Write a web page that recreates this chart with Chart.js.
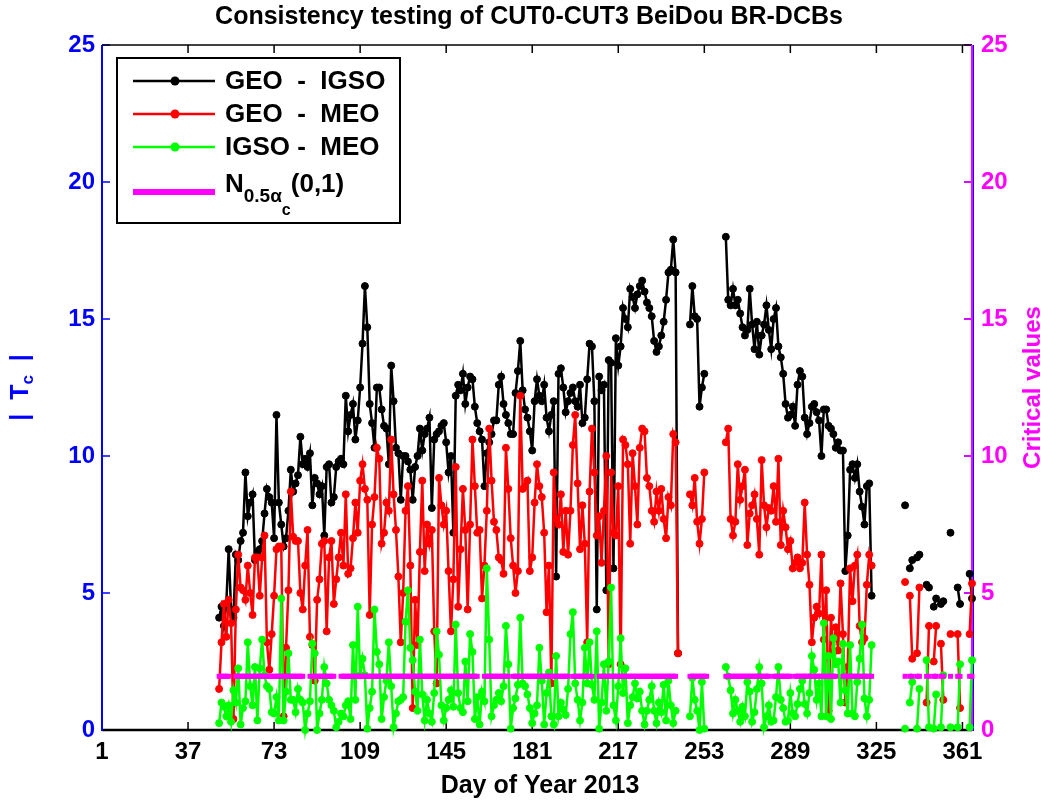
<!DOCTYPE html>
<html>
<head>
<meta charset="utf-8">
<title>Consistency testing of CUT0-CUT3 BeiDou BR-DCBs</title>
<script src="https://cdn.jsdelivr.net/npm/chart.js@4.4.1/dist/chart.umd.min.js"></script>
<style>
  html, body { margin: 0; padding: 0; background: #fff; }
  #wrap { width: 1046px; height: 807px; position: relative; }
</style>
</head>
<body>
<div id="wrap"><canvas id="myChart"></canvas></div>
<script>
// one value per day, starting at day 50; null = no solution that day
const firstDay = 50;
const xTicks = [1, 37, 73, 109, 145, 181, 217, 253, 289, 325, 361];

const geoIgso = [
  4.1, 4.5, 3.8, 4.6, 6.6, 4.4, 4.1, 6.4, 6.2, 6.9,
  7.2, 9.4, 7.8, 8.3, 8.6, 6.2, 6.5, 6.6, 6.9, 7.9,
  8.8, 8.5, 8.3, 7.0, 11.5, 8.3, 7.5, 6.7, 7.0, 8.0,
  9.5, 8.7, 9.0, 9.3, 10.7, 9.7, 9.9, 9.6, 10.1, 8.2,
  9.2, 9.0, 8.6, 8.9, 7.1, 9.6, 9.7, 8.3, 8.5, 9.6,
  9.8, 9.9, 9.7, 12.2, 10.9, 11.5, 11.9, 10.6, 11.3, 12.5,
  14.1, 16.2, 14.7, 11.9, 11.2, 10.3, 12.5, 12.5, 11.7, 11.1,
  11.0, 9.7, 13.3, 12.0, 10.3, 10.1, 8.4, 10.0, 10.0, 9.8,
  9.5, 8.4, 9.6, 10.0, 11.0, 10.2, 10.8, 11.0, 11.4, 8.1,
  10.6, 10.8, 10.9, 11.1, 11.2, 10.5, 9.4, 10.0, 7.2, 12.2,
  12.6, 12.4, 13.0, 11.9, 12.5, 12.9, 12.8, 11.8, 11.2, 10.9,
  10.6, 8.9, 10.1, 10.5, 10.8, 11.3, 11.3, 12.6, 12.9, 11.9,
  11.5, 11.2, 10.8, 10.8, 12.3, 13.1, 14.2, 12.4, 11.7, 11.4,
  10.9, 10.2, 12.0, 12.8, 12.2, 12.0, 12.6, 11.4, 10.9, 11.5,
  12.0, 5.6, 13.0, 13.2, 12.5, 11.6, 12.0, 12.3, 12.5, 12.0,
  11.8, 12.6, 11.2, 11.4, 12.8, 14.1, 14.0, 12.0, 4.4, 12.9,
  12.4, 12.6, 5.1, 13.5, 13.4, 5.9, 14.3, 13.3, 14.0, 15.4,
  15.0, 14.7, 16.1, 15.8, 15.4, 15.9, 16.2, 16.4, 16.0, 15.6,
  15.4, 15.1, 14.2, 13.8, 14.0, 14.4, 14.9, 15.7, 16.7, 16.8,
  17.9, 16.7, 2.8, null, null, null, null, 14.8, 16.2, 15.1,
  15.0, 11.8, 12.5, 13.0, null, null, null, null, null, null,
  null, null, 18.0, 15.7, 15.5, 16.1, 15.5, 15.7, 15.2, 14.7,
  14.4, 14.6, 16.1, 14.8, 13.9, 14.9, 13.7, 14.4, 14.8, 15.5,
  14.6, 13.9, 15.0, 15.4, 14.0, 13.6, 13.0, 11.9, 11.4, 11.5,
  11.8, 11.1, 12.6, 13.1, 12.9, 11.4, 10.8, 11.2, 11.8, 11.9,
  11.6, 11.3, 10.0, 11.7, 11.7, 11.1, 11.0, 10.8, 10.3, 10.5,
  10.2, 10.2, 5.8, 7.1, 9.5, 9.7, 9.2, 9.7, 8.7, 8.15,
  7.5, 8.9, 9.0, 4.9, null, null, null, null, null, null,
  null, null, null, null, null, null, null, 8.2, null, 5.9,
  6.2, null, 6.3, 6.4, null, null, 5.3, 5.2, null, 4.5,
  4.8, null, 4.6, 4.7, null, null, 7.2, null, null, 5.2,
  4.6, null, null, null, 5.7, 4.8
];

const geoMeo = [
  1.5, 3.2, 4.6, 3.4, 4.75, 3.9, 0.4, 4.4, 6.4, 5.2,
  5.1, 4.75, 6.0, 5.0, 4.2, 6.3, 6.3, 4.9, 6.3, 7.1,
  3.2, 2.2, 3.5, 4.9, 6.6, 6.7, 6.7, 0.5, 3.0, 5.1,
  8.7, 7.05, 6.9, 6.9, 5.0, 4.4, 6.0, 7.3, 3.4, 3.1,
  1.8, 4.75, 5.5, 6.8, 6.9, 3.6, 6.3, 6.9, 4.6, 5.5,
  6.3, 7.2, 6.0, 8.6, 5.7, 5.9, 7.0, 8.3, 7.2, 9.1,
  9.7, 8.8, 8.4, 4.2, 7.5, 8.5, 10.3, 9.9, 6.8, 7.2,
  8.3, 8.0, 10.6, 8.6, 7.3, 5.6, 3.2, 5.0, 8.0, 8.9,
  6.0, 0.8, 4.75, 3.1, 6.5, 9.1, 5.8, 7.5, 6.8, 7.3,
  3.6, 1.7, 9.2, 8.2, 7.5, 8.0, 5.8, 3.6, 5.5, 9.6,
  4.5, 6.6, 8.8, 7.3, 4.4, 7.5, 10.6, 8.9, 7.2, 7.3,
  4.8, 6.0, 8.0, 11.0, 9.1, 7.6, 7.3, 6.3, 6.2, 5.7,
  10.3, 8.8, 7.0, 6.0, 5.0, 5.8, 12.2, 8.8, 8.9, 9.1,
  5.8, 6.3, 8.3, 9.7, 8.9, 8.5, 7.2, 4.3, 6.0, 1.7,
  9.4, 7.7, 7.5, 8.6, 6.5, 8.0, 6.4, 8.0, 10.4, 11.5,
  9.0, 6.6, 8.2, 6.8, 3.2, 8.7, 11.0, 9.4, 7.1, 7.8,
  6.1, 8.0, 10.0, 2.4, 9.4, 7.2, 7.1, 8.9, 2.4, 10.6,
  10.4, 9.7, 6.8, 10.1, 8.9, 7.5, 10.3, 11.0, 10.9, 9.2,
  8.9, 8.0, 7.6, 8.7, 8.0, 8.8, 7.7, 7.0, 8.5, 8.2,
  10.8, 10.5, 2.8, null, null, null, null, 8.6, 8.2, 9.2,
  7.6, 6.8, 7.7, 9.4, null, null, null, null, null, null,
  null, null, 10.5, 11.0, 7.7, 7.1, 7.6, 9.7, 8.4, 8.9,
  9.5, 6.75, 7.9, 8.2, 8.6, 7.7, 6.4, 9.85, 8.2, 7.4,
  8.1, 8.0, 8.9, 7.6, 9.9, 6.75, 8.0, 7.4, 6.6, 6.9,
  5.9, 6.1, 6.3, 5.9, 6.1, 8.3, 6.4, 5.3, 3.2, 4.1,
  4.5, 4.25, 6.4, 3.3, 5.1, 0.7, 4.1, 2.85, 3.75, 2.9,
  5.35, 3.5, 1.0, 2.3, 5.9, 4.7, 6.0, 6.4, 3.8, 3.2,
  3.35, 5.3, 6.4, 6.0, null, null, null, null, null, null,
  null, null, null, null, null, null, null, 5.4, null, 4.9,
  2.6, null, 2.8, 5.2, null, null, 1.0, 3.8, null, 2.5,
  3.8, null, 3.15, 1.1, null, null, 3.5, null, null, 3.5,
  0.8, null, null, null, 3.5, 5.35
];

const igsoMeo = [
  0.25, 1.0, 0.85, 0.5, 0.9, 0.3, 1.45, 1.0, 2.25, 0.2,
  0.8, 1.05, 3.2, 1.6, 0.9, 2.3, 0.35, 2.25, 3.3, 2.0,
  1.6, 1.5, 0.65, 0.6, 1.2, 0.35, 4.8, 0.35, 1.4, 2.8,
  1.1, 1.1, 0.65, 1.5, 1.1, 1.0, 0.0, 0.6, 1.05, 3.15,
  2.8, 0.0, 0.6, 1.1, 2.3, 1.7, 1.1, 0.9, 0.7, 0.1,
  0.3, 0.6, 0.5, 0.9, 1.05, 0.4, 3.1, 1.1, 4.5, 2.0,
  2.6, 2.0, 0.05, 0.8, 1.4, 4.4, 2.85, 2.4, 0.4, 1.2,
  1.8, 3.2, 1.6, 0.1, 0.6, 1.05, 1.1, 1.2, 3.95, 5.1,
  3.0, 2.55, 1.4, 0.7, 3.3, 1.3, 0.35, 1.1, 0.6, 0.3,
  1.35, 3.6, 2.75, 0.9, 0.35, 0.8, 1.1, 1.45, 0.85, 3.85,
  1.35, 0.8, 0.65, 2.5, 1.05, 3.5, 2.85, 0.4, 1.2, 0.2,
  1.4, 1.05, 5.9, 3.3, 0.5, 0.9, 1.1, 1.35, 1.05, 1.6,
  3.8, 2.4, 0.05, 0.8, 1.15, 1.65, 4.1, 1.7, 1.6, 1.3,
  0.8, 0.25, 0.6, 0.9, 3.0, 1.8, 0.2, 1.35, 2.1, 0.5,
  0.2, 2.7, 0.5, 1.0, 0.75, 0.55, 1.5, 3.5, 4.3, 1.7,
  1.1, 0.35, 1.0, 3.0, 1.7, 3.2, 1.65, 1.1, 3.6, 0.05,
  1.0, 2.4, 0.7, 2.5, 5.2, 0.9, 0.35, 1.6, 3.35, 1.35,
  2.25, 0.25, 0.9, 1.2, 1.7, 1.15, 1.4, 0.7, 0.2, 0.7,
  1.1, 1.6, 0.7, 0.25, 1.0, 0.65, 1.65, 0.35, 1.8, 0.9,
  0.25, 0.7, null, null, null, null, null, 0.5, 1.9, 1.1,
  0.7, 0.0, 1.75, 0.05, null, null, null, null, null, null,
  null, null, 2.3, 1.95, 1.45, 0.6, 1.1, 0.7, 0.3, 0.85,
  0.5, 1.75, 1.4, 0.3, 0.65, 1.5, 2.3, 1.7, 0.1, 0.5,
  0.9, 0.3, 0.35, 1.2, 2.3, 1.1, 0.8, 0.3, 0.35, 1.35,
  0.6, 0.5, 0.95, 1.5, 1.8, 0.95, 0.6, 1.35, 2.7, 2.2,
  1.1, 1.7, 0.5, 3.9, 0.5, 2.7, 0.4, 3.35, 2.4, 2.5,
  1.0, 3.15, 1.45, 0.6, 3.1, 0.6, 0.5, 1.75, 2.6, 3.85,
  1.15, 0.5, 1.1, 3.1, null, null, null, null, null, null,
  null, null, null, null, null, null, null, 0.05, null, 1.0,
  1.75, null, 0.05, 1.5, null, null, 2.55, 0.1, null, 0.05,
  1.3, null, 0.1, 2.0, null, null, 0.1, null, null, 0.1,
  2.4, null, null, null, 0.1, 2.55
];

// critical value N(0.5 alpha)(0,1), drawn over the day spans where it was computed
const critValue = 1.96;
const critSpans = [
  [50, 54], [57, 85], [88, 98], [101, 158], [161, 171], [173, 196],
  [198, 206], [209, 241], [247, 254], [262, 280], [282, 289], [291, 308],
  [311, 323], [337, 337], [339, 340], [342, 343], [346, 347], [349, 350],
  [352, 353], [356, 356], [359, 360], [364, 365]
];

const FONT = "'Liberation Sans', Arial, Helvetica, sans-serif";
const BLUE = '#0000ff';
const MAGENTA = '#ff00ff';

const toPoints = (vals) => vals.map((v, i) => ({x: firstDay + i, y: v}));

const critPoints = [];
critSpans.forEach(([a, b]) => {
  for (let d = a; d <= b; d++) critPoints.push({x: d, y: critValue});
  critPoints.push({x: b + 0.5, y: null});
});

function seg(ctx, x1, y1, x2, y2) {
  ctx.beginPath();
  ctx.moveTo(x1, y1);
  ctx.lineTo(x2, y2);
  ctx.stroke();
}

function drawRuns(ctx, x, y, runs) {
  runs.forEach(r => {
    ctx.font = `bold ${r.size}px ${FONT}`;
    ctx.fillText(r.text, x, y + (r.dy || 0));
    x += ctx.measureText(r.text).width;
  });
  return x;
}

function runsWidth(ctx, runs) {
  let w = 0;
  runs.forEach(r => {
    ctx.font = `bold ${r.size}px ${FONT}`;
    w += ctx.measureText(r.text).width;
  });
  return w;
}

// box, inward ticks and coloured axis lines (under the data, like the original)
const framePlugin = {
  id: 'frame',
  beforeDatasetsDraw(chart) {
    const {ctx, chartArea: a, scales} = chart;
    ctx.save();
    ctx.lineWidth = 1.5;
    ctx.strokeStyle = '#000';
    xTicks.forEach(v => {
      const px = scales.x.getPixelForValue(v);
      seg(ctx, px, a.bottom, px, a.bottom - 8);
      seg(ctx, px, a.top, px, a.top + 8);
    });
    scales.y.ticks.forEach(t => {
      const py = scales.y.getPixelForValue(t.value);
      ctx.strokeStyle = BLUE;
      seg(ctx, a.left, py, a.left + 8, py);
      seg(ctx, a.right, py, a.right - 8, py);
    });
    scales.y2.ticks.forEach(t => {
      const py = scales.y2.getPixelForValue(t.value);
      ctx.strokeStyle = MAGENTA;
      seg(ctx, a.right - 1, py, a.right - 8, py);
    });
    ctx.strokeStyle = '#000';
    seg(ctx, a.left, a.top, a.right, a.top);
    ctx.lineWidth = 2.5;
    seg(ctx, a.left, a.bottom, a.right, a.bottom);
    ctx.lineWidth = 2;
    ctx.strokeStyle = BLUE;
    seg(ctx, a.left, a.top, a.left, a.bottom + 1);
    seg(ctx, a.right + 1, a.top, a.right + 1, a.bottom + 1);
    ctx.strokeStyle = MAGENTA;
    seg(ctx, a.right, a.top, a.right, a.bottom + 1);
    ctx.restore();
  }
};

// titles and the boxed legend
const textPlugin = {
  id: 'texts',
  afterDraw(chart) {
    const {ctx, chartArea: a} = chart;
    const cx = (a.left + a.right) / 2;
    const cy = (a.top + a.bottom) / 2;
    ctx.save();
    ctx.fillStyle = '#000';
    ctx.textAlign = 'center';
    ctx.textBaseline = 'middle';
    ctx.font = `bold 25px ${FONT}`;
    ctx.fillText('Consistency testing of CUT0-CUT3 BeiDou BR-DCBs', cx - 8, 17);
    ctx.fillText('Day of Year 2013', cx + 3, 786);

    // right axis title
    ctx.save();
    ctx.translate(1033, cy);
    ctx.rotate(-Math.PI / 2);
    ctx.fillStyle = MAGENTA;
    ctx.font = `bold 24px ${FONT}`;
    ctx.fillText('Critical values', 0, 0);
    ctx.restore();

    // left axis title |T_c|
    ctx.save();
    ctx.translate(21, cy);
    ctx.rotate(-Math.PI / 2);
    ctx.fillStyle = BLUE;
    ctx.textAlign = 'left';
    const yRuns = [
      {text: '|  T', size: 25},
      {text: 'c', size: 17, dy: 7},
      {text: '  |', size: 25}
    ];
    drawRuns(ctx, -runsWidth(ctx, yRuns) / 2, 0, yRuns);
    ctx.restore();

    // legend
    const lx = 117, ly = 58, lw = 283, lh = 165;
    ctx.fillStyle = '#fff';
    ctx.fillRect(lx, ly, lw, lh);
    ctx.lineWidth = 2;
    ctx.strokeStyle = '#000';
    ctx.strokeRect(lx, ly, lw, lh);
    const rows = [
      {label: 'GEO  -  IGSO', color: '#000000', y: 81},
      {label: 'GEO  -  MEO', color: '#ff0000', y: 114},
      {label: 'IGSO -  MEO', color: '#00ff00', y: 147}
    ];
    ctx.textAlign = 'left';
    rows.forEach(r => {
      ctx.strokeStyle = r.color;
      ctx.fillStyle = r.color;
      ctx.lineWidth = 2.5;
      seg(ctx, 133, r.y, 215, r.y);
      ctx.beginPath();
      ctx.arc(175, r.y, 4.5, 0, Math.PI * 2);
      ctx.fill();
      ctx.fillStyle = '#000';
      ctx.font = `bold 26px ${FONT}`;
      ctx.fillText(r.label, 225, r.y + 1);
    });
    ctx.strokeStyle = MAGENTA;
    ctx.lineWidth = 6;
    seg(ctx, 133, 192, 215, 192);
    ctx.fillStyle = '#000';
    ctx.textBaseline = 'alphabetic';
    drawRuns(ctx, 225, 192, [
      {text: 'N', size: 26},
      {text: '0.5\u03b1', size: 19, dy: 10},
      {text: 'c', size: 16, dy: 23},
      {text: '(0,1)', size: 26}
    ]);
    ctx.restore();
  }
};

const tickFont = {family: FONT, size: 24, weight: 'bold'};

function series(label, vals, color, order) {
  return {
    label: label,
    data: toPoints(vals),
    borderColor: color,
    backgroundColor: color,
    borderWidth: 2.5,
    pointRadius: 3.5,
    pointBorderWidth: 1,
    order: order,
    yAxisID: 'y',
    clip: false
  };
}

const config = {
  type: 'line',
  data: {
    datasets: [
      series('GEO  -  IGSO', geoIgso, '#000000', 3),
      series('GEO  -  MEO', geoMeo, '#ff0000', 2),
      series('IGSO -  MEO', igsoMeo, '#00ff00', 1),
      {
        label: 'N0.5ac(0,1)',
        data: critPoints,
        borderColor: MAGENTA,
        backgroundColor: MAGENTA,
        borderWidth: 5,
        pointStyle: 'rect',
        pointRadius: 3.5,
        pointBorderWidth: 0,
        order: 0,
        yAxisID: 'y2',
        clip: false
      }
    ]
  },
  options: {
    responsive: true,
    maintainAspectRatio: false,
    devicePixelRatio: 1,
    animation: false,
    spanGaps: false,
    layout: {padding: {top: 45, left: 0, right: 0, bottom: 0}},
    plugins: {
      legend: {display: false},
      tooltip: {enabled: false}
    },
    scales: {
      x: {
        type: 'linear',
        min: 1,
        max: 365,
        afterBuildTicks: (s) => { s.ticks = xTicks.map(v => ({value: v})); },
        afterFit: (s) => { s.height = 77; },
        grid: {display: false, drawTicks: false},
        border: {display: false},
        ticks: {color: '#000', font: tickFont, padding: 8, autoSkip: false, maxRotation: 0}
      },
      y: {
        position: 'left',
        min: 0,
        max: 25,
        afterFit: (s) => { s.width = 102; },
        grid: {display: false, drawTicks: false},
        border: {display: false},
        ticks: {stepSize: 5, color: BLUE, font: tickFont, padding: 7}
      },
      y2: {
        position: 'right',
        min: 0,
        max: 25,
        afterFit: (s) => { s.width = 74; },
        grid: {display: false, drawTicks: false},
        border: {display: false},
        ticks: {stepSize: 5, color: MAGENTA, font: tickFont, padding: 9}
      }
    }
  },
  plugins: [framePlugin, textPlugin]
};

const myChart = new Chart(document.getElementById('myChart'), config);
</script>
</body>
</html>
